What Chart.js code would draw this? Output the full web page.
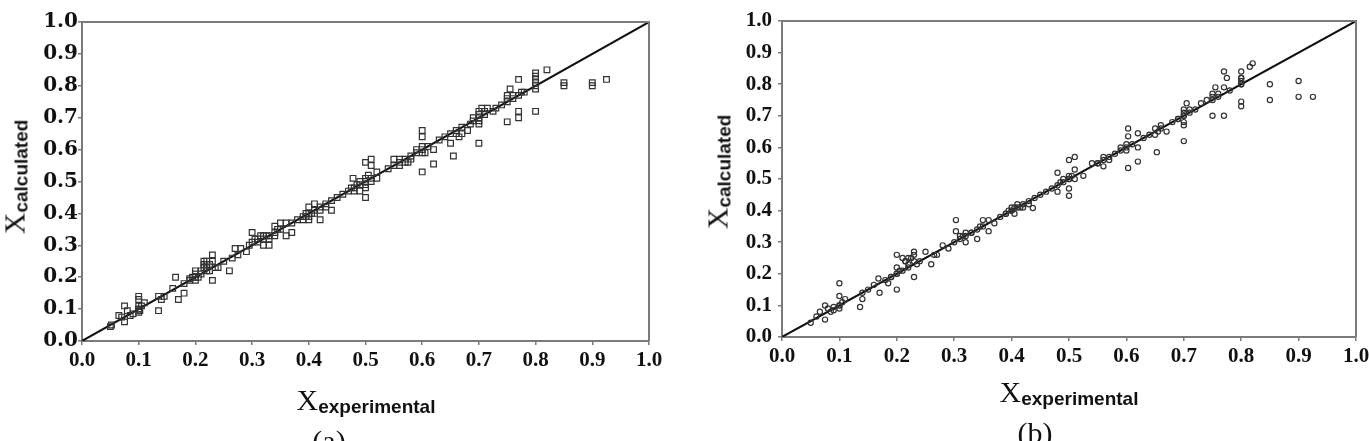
<!DOCTYPE html>
<html>
<head>
<meta charset="utf-8">
<script src="https://cdn.jsdelivr.net/npm/chart.js@4.4.1/dist/chart.umd.min.js"></script>
<style>
  html, body { margin:0; padding:0; background:#fff; }
  body { width:1369px; height:441px; overflow:hidden; position:relative; }
  .box { position:absolute; top:0; height:441px; }
  .ttl { position:absolute; white-space:nowrap; line-height:1; color:#111; }
  .ttl .X { font-family:"Liberation Serif", serif; font-size:30px; }
  .ttl .sub { font-family:"Liberation Sans", Arial, sans-serif; font-weight:bold; font-size:19px; vertical-align:-3px; }
  .cap { position:absolute; font-family:"Liberation Serif", serif; font-size:30px; line-height:1; color:#111; transform:translateX(-50%); }
</style>
</head>
<body>
<div class="box" id="boxA" style="left:0px;width:690px;"><canvas id="chartA"></canvas></div>
<div class="box" id="boxB" style="left:700px;width:690px;"><canvas id="chartB"></canvas></div>

<div class="ttl" style="left:366px;top:385px;transform:translateX(-50%);"><span class="X">X</span><span class="sub">experimental</span></div>
<div class="ttl" style="left:1069px;top:377px;transform:translateX(-50%);"><span class="X">X</span><span class="sub">experimental</span></div>
<div class="ttl" style="left:15px;top:177px;transform:translate(-50%,-50%) rotate(-90deg);"><span class="X">X</span><span class="sub">calculated</span></div>
<div class="ttl" style="left:718px;top:172px;transform:translate(-50%,-50%) rotate(-90deg);"><span class="X">X</span><span class="sub">calculated</span></div>
<div class="cap" style="left:329px;top:426px;">(a)</div>
<div class="cap" style="left:1035px;top:418px;">(b)</div>

<script>
// ---------- data ----------
const axisRange = [0, 1];
const tickStep = 0.1;

const expA = [0.05,0.052,0.065,0.07,0.075,0.075,0.08,0.085,0.09,0.1,0.1,0.1,0.1,0.102,0.105,0.11,
  0.135,0.135,0.14,0.145,0.16,0.165,0.17,0.18,0.18,0.19,0.195,0.2,0.2,0.2,0.205,0.21,0.215,0.215,
  0.22,0.22,0.225,0.23,0.23,0.23,0.235,0.24,0.25,0.26,0.265,0.27,0.275,0.28,0.29,0.295,0.3,0.3,
  0.305,0.31,0.315,0.32,0.32,0.33,0.33,0.34,0.34,0.35,0.35,0.36,0.36,0.37,0.37,0.38,0.39,0.395,
  0.4,0.4,0.4,0.41,0.41,0.42,0.42,0.43,0.44,0.44,0.45,0.46,0.47,0.475,0.478,0.48,0.485,0.49,0.49,
  0.5,0.5,0.5,0.5,0.505,0.51,0.51,0.51,0.52,0.52,0.54,0.55,0.55,0.56,0.56,0.57,0.575,0.58,0.59,
  0.6,0.6,0.6,0.6,0.605,0.61,0.62,0.62,0.63,0.64,0.65,0.655,0.66,0.665,0.67,0.68,0.685,0.69,
  0.7,0.7,0.7,0.7,0.705,0.71,0.715,0.725,0.73,0.74,0.75,0.75,0.75,0.755,0.76,0.77,0.77,0.77,0.775,
  0.78,0.8,0.8,0.8,0.8,0.8,0.82,0.85,0.85,0.9,0.9,0.925,
  0.1,0.1,0.19,0.2,0.21,0.215,0.22,0.22,0.225,0.31,0.32,0.325,0.33,0.34,0.345,0.39,0.395,0.4,
  0.405,0.41,0.42,0.43,0.48,0.49,0.5,0.5,0.51,0.56,0.57,0.58,0.59,0.6,0.6,0.65,0.66,0.67,0.69,
  0.7,0.7,0.71,0.75,0.76,0.77,0.8,0.8];
const calcA = [0.045,0.05,0.08,0.075,0.11,0.06,0.095,0.08,0.085,0.14,0.13,0.1,0.09,0.095,0.11,0.12,
  0.095,0.14,0.13,0.14,0.165,0.2,0.13,0.15,0.18,0.19,0.2,0.19,0.21,0.22,0.2,0.22,0.25,0.24,
  0.24,0.23,0.22,0.27,0.19,0.25,0.23,0.23,0.25,0.22,0.26,0.29,0.27,0.29,0.28,0.3,0.31,0.34,
  0.32,0.32,0.33,0.3,0.33,0.3,0.33,0.34,0.36,0.37,0.35,0.33,0.37,0.34,0.37,0.38,0.39,0.39,
  0.42,0.38,0.4,0.43,0.4,0.38,0.42,0.43,0.41,0.44,0.45,0.46,0.47,0.48,0.51,0.47,0.49,0.47,0.5,
  0.45,0.48,0.5,0.56,0.52,0.57,0.55,0.51,0.51,0.53,0.54,0.55,0.57,0.56,0.55,0.57,0.56,0.58,0.6,
  0.66,0.64,0.53,0.6,0.59,0.61,0.555,0.6,0.63,0.64,0.62,0.58,0.66,0.64,0.65,0.66,0.68,0.69,
  0.62,0.7,0.72,0.68,0.73,0.71,0.73,0.72,0.73,0.74,0.687,0.77,0.75,0.79,0.76,0.82,0.72,0.70,0.78,
  0.78,0.81,0.83,0.84,0.72,0.79,0.85,0.80,0.81,0.81,0.80,0.82,
  0.11,0.1,0.195,0.2,0.21,0.23,0.22,0.25,0.24,0.31,0.32,0.33,0.32,0.33,0.35,0.38,0.4,0.39,
  0.4,0.41,0.41,0.42,0.48,0.49,0.49,0.51,0.5,0.57,0.56,0.57,0.59,0.59,0.61,0.65,0.65,0.67,0.7,
  0.71,0.69,0.72,0.76,0.77,0.77,0.8,0.82];

const expB = [0.05,0.06,0.066,0.075,0.075,0.08,0.085,0.09,0.1,0.1,0.1,0.1,0.105,0.11,0.136,0.14,
  0.14,0.15,0.16,0.168,0.17,0.18,0.185,0.19,0.2,0.2,0.2,0.2,0.205,0.21,0.215,0.22,0.22,0.23,0.23,
  0.23,0.235,0.24,0.25,0.26,0.265,0.27,0.28,0.29,0.3,0.303,0.303,0.31,0.32,0.32,0.33,0.34,0.345,
  0.35,0.36,0.36,0.37,0.38,0.39,0.4,0.4,0.405,0.41,0.415,0.42,0.43,0.437,0.44,0.45,0.46,0.47,
  0.48,0.48,0.485,0.49,0.5,0.5,0.5,0.5,0.505,0.51,0.51,0.525,0.54,0.55,0.56,0.56,0.57,0.58,0.59,
  0.6,0.603,0.603,0.603,0.61,0.62,0.62,0.62,0.63,0.64,0.65,0.653,0.66,0.67,0.68,0.69,
  0.7,0.7,0.7,0.7,0.7,0.705,0.71,0.72,0.73,0.74,0.75,0.75,0.755,0.76,0.77,0.77,0.775,0.78,
  0.8,0.8,0.8,0.8,0.8,0.8,0.815,0.82,0.85,0.85,0.9,0.9,0.925,
  0.09,0.1,0.19,0.2,0.21,0.215,0.22,0.225,0.23,0.31,0.315,0.32,0.33,0.34,0.35,0.39,0.395,0.4,
  0.405,0.41,0.42,0.43,0.48,0.49,0.5,0.5,0.51,0.55,0.56,0.57,0.59,0.6,0.6,0.65,0.655,0.66,0.69,
  0.7,0.7,0.71,0.75,0.75,0.76,0.77,0.8,0.8];
const calcB = [0.045,0.065,0.08,0.1,0.055,0.09,0.08,0.085,0.17,0.13,0.1,0.09,0.11,0.12,0.095,0.12,
  0.14,0.15,0.165,0.185,0.14,0.18,0.17,0.19,0.15,0.26,0.2,0.22,0.21,0.25,0.24,0.25,0.23,0.27,0.19,
  0.26,0.23,0.24,0.27,0.23,0.26,0.26,0.29,0.28,0.3,0.37,0.335,0.32,0.3,0.33,0.33,0.31,0.35,
  0.37,0.335,0.37,0.36,0.38,0.39,0.41,0.4,0.39,0.42,0.41,0.42,0.43,0.408,0.44,0.45,0.46,0.47,
  0.52,0.46,0.49,0.5,0.447,0.47,0.56,0.5,0.51,0.57,0.53,0.51,0.55,0.55,0.56,0.54,0.57,0.58,0.6,
  0.59,0.66,0.635,0.535,0.61,0.555,0.645,0.6,0.63,0.64,0.64,0.585,0.66,0.65,0.68,0.69,
  0.62,0.68,0.67,0.7,0.72,0.74,0.71,0.72,0.74,0.75,0.70,0.76,0.79,0.77,0.84,0.70,0.82,0.78,
  0.82,0.84,0.80,0.73,0.745,0.81,0.855,0.866,0.80,0.75,0.81,0.76,0.76,
  0.095,0.1,0.19,0.2,0.21,0.24,0.22,0.25,0.24,0.31,0.32,0.32,0.33,0.34,0.35,0.39,0.4,0.4,
  0.41,0.41,0.41,0.42,0.48,0.49,0.5,0.51,0.5,0.55,0.57,0.56,0.59,0.6,0.61,0.66,0.65,0.67,0.69,
  0.7,0.71,0.72,0.75,0.77,0.76,0.79,0.8,0.82];

// ---------- helpers ----------
const toPts = (xs, ys) => xs.map((x, i) => ({ x: x, y: ys[i] }));

const borderBox = {
  id: 'borderBox',
  afterDraw(chart) {
    const a = chart.chartArea, c = chart.ctx;
    c.save();
    c.strokeStyle = '#7a7a7a';
    c.lineWidth = 2;
    c.beginPath();
    c.moveTo(a.left, a.top); c.lineTo(a.right, a.top); c.lineTo(a.right, a.bottom);
    c.stroke();
    c.restore();
  }
};

function makeChart(id, xs, ys, style, radius, padding, yFont, yPad) {
  const xFont = { family: '"Liberation Serif", serif', size: 21, weight: 'bold' };
  const axis = (isX) => ({
    type: 'linear',
    min: axisRange[0], max: axisRange[1],
    border: { display: true, color: '#7a7a7a', width: 2 },
    grid: { display: true, drawOnChartArea: false, drawTicks: true, tickLength: 4, color: '#7a7a7a', lineWidth: 1.5 },
    ticks: {
      stepSize: tickStep, color: '#111', font: isX ? xFont : yFont, padding: isX ? 3 : yPad,
      maxRotation: 0, autoSkip: false,
      callback: (v) => Number(v).toFixed(1)
    },
    afterFit: (s) => { if (isX) s.height = 30; else s.width = 82; }
  });
  return new Chart(document.getElementById(id), {
    type: 'scatter',
    data: {
      datasets: [
        {
          data: toPts(xs, ys),
          pointStyle: style, pointRadius: radius,
          borderColor: '#333', backgroundColor: 'rgba(255,255,255,0)', borderWidth: 1.2,
          pointHoverRadius: radius
        },
        {
          type: 'line',
          data: toPts(axisRange, axisRange),
          borderColor: '#111', borderWidth: 2, pointRadius: 0, fill: false
        }
      ]
    },
    options: {
      responsive: true, maintainAspectRatio: false, animation: false,
      layout: { padding: padding },
      plugins: { legend: { display: false }, tooltip: { enabled: false } },
      scales: { x: axis(true), y: axis(false) }
    },
    plugins: [borderBox]
  });
}

makeChart('chartA', expA, calcA, 'rect', 4, { left: 0, top: 22, right: 41, bottom: 70 },
  { family: '"DejaVu Serif", serif', size: 20, weight: 'bold' }, 0);
makeChart('chartB', expB, calcB, 'circle', 2.6, { left: 0, top: 21, right: 34, bottom: 74 },
  { family: '"Liberation Serif", serif', size: 21, weight: 'bold' }, 6);
</script>
</body>
</html>
